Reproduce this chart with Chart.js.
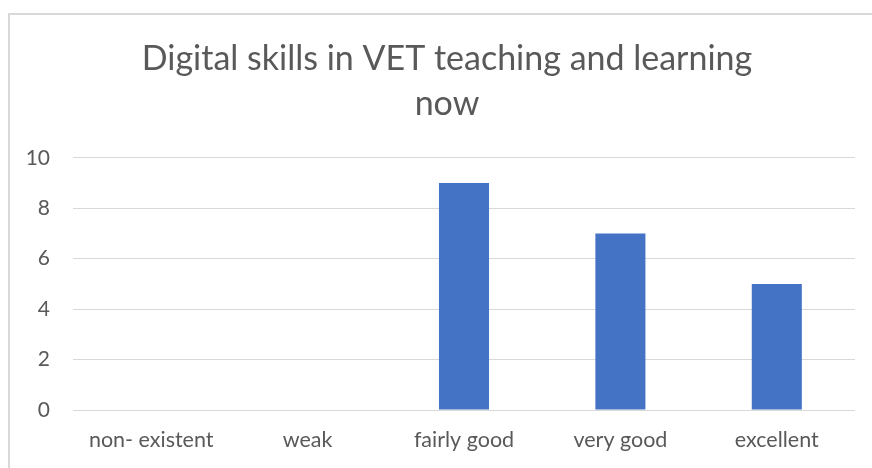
<!DOCTYPE html>
<html>
<head>
<meta charset="utf-8">
<script src="https://cdn.jsdelivr.net/npm/chart.js@4"></script>
<style>
  html, body { margin: 0; padding: 0; background: #fff; }
  #wrap { position: relative; width: 872px; height: 468px; overflow: hidden; }
  #frame { position: absolute; left: 8px; top: 13px; width: 900px; height: 500px; border: 2px solid #d9d9d9; box-sizing: border-box; }
  canvas { position: absolute; left: 0; top: 0; }
</style>
</head>
<body>
<div id="wrap">
  <div id="frame"></div>
  <canvas id="chart" width="894" height="468"></canvas>
</div>
<script>
// chart data
const categories = ['non- existent', 'weak', 'fairly good', 'very good', 'excellent'];
const counts = [0, 0, 9, 7, 5];
const titleLines = ['Digital skills in VET teaching and learning', 'now'];

const textColor = '#595959';
const gridColor = '#d9d9d9';

const ctx = document.getElementById('chart').getContext('2d');
new Chart(ctx, {
    type: 'bar',
    data: {
        labels: categories,
        datasets: [{
            data: counts,
            backgroundColor: '#4472c4',
            categoryPercentage: 1,
            barPercentage: 0.32
        }]
    },
    options: {
        responsive: false,
        animation: false,
        layout: { padding: { left: 0, right: 0, top: 37, bottom: 0 } },
        plugins: {
            legend: { display: false },
            tooltip: { enabled: false },
            title: {
                display: true,
                text: titleLines,
                color: textColor,
                font: { family: 'Lato', size: 34, weight: 'normal', lineHeight: 1.32 },
                padding: { top: 0, bottom: 31 }
            }
        },
        scales: {
            x: {
                grid: { display: false, drawTicks: false },
                border: { display: false },
                ticks: { color: textColor, font: { family: 'Lato', size: 21.5 }, padding: 17, maxRotation: 0 },
                afterFit: (scale) => { scale.height = 58; }
            },
            y: {
                min: 0,
                max: 10,
                ticks: { stepSize: 2, color: textColor, font: { family: 'Lato', size: 21 }, padding: 23 },
                grid: { color: gridColor, lineWidth: 1, drawTicks: false },
                border: { display: false },
                afterFit: (scale) => { scale.width = 73; }
            },
            // empty axis on the right, only there so the title sits off-centre like the original
            spacer: {
                type: 'linear',
                position: 'right',
                ticks: { display: false },
                grid: { display: false, drawTicks: false },
                border: { display: false },
                afterFit: (scale) => { scale.width = 39; }
            }
        }
    }
});
</script>
</body>
</html>
